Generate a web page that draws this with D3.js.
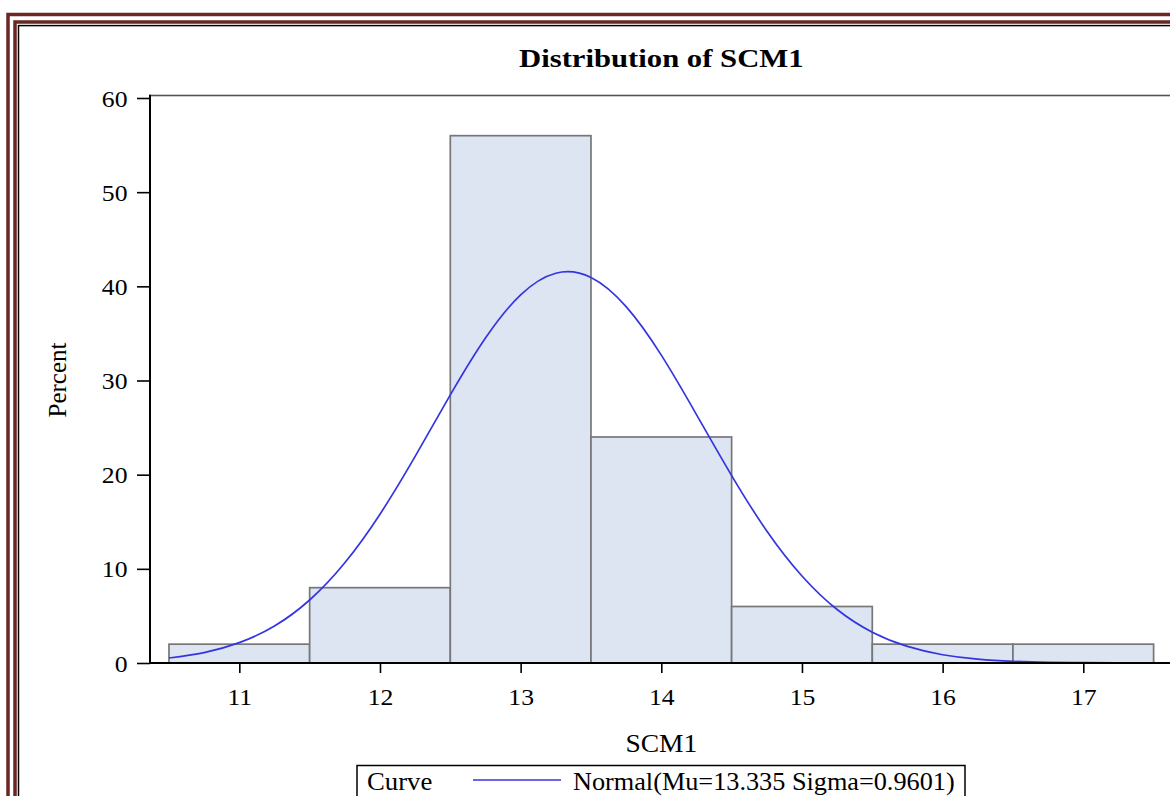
<!DOCTYPE html>
<html>
<head>
<meta charset="utf-8">
<script src="https://cdn.jsdelivr.net/npm/d3@7"></script>
<style>
  html, body { margin: 0; padding: 0; background: #ffffff; overflow: hidden; }
  svg { display: block; }
  text { font-family: "Liberation Serif", "Times New Roman", serif; fill: #000; }
</style>
</head>
<body>
<svg id="chart" width="1170" height="796"></svg>
<script>
// ---- data ----
const binMidpoints = [11, 12, 13, 14, 15, 16, 17];
const binPercent   = [2, 8, 56, 24, 6, 2, 2];
const binWidth = 1;
const xTickValues = [11, 12, 13, 14, 15, 16, 17];
const yTickValues = [0, 10, 20, 30, 40, 50, 60];
// normal curve values (percent)
const curveX       = [10.5, 10.75, 11, 11.25, 11.5, 11.75, 12, 12.25, 12.5, 12.75, 13, 13.25, 13.5, 13.75, 14, 14.25, 14.5, 14.75, 15, 15.25, 15.5, 15.75, 16, 16.25, 16.5, 16.75, 17, 17.25, 17.5];
const curvePercent = [0.53, 1.11, 2.16, 3.93, 6.69, 10.64, 15.8, 21.94, 28.47, 34.51, 39.09, 41.39, 40.94, 37.84, 32.69, 26.38, 19.9, 14.02, 9.24, 5.68, 3.27, 1.76, 0.88, 0.41, 0.18, 0.07, 0.03, 0.01, 0.0];
const titleText = "Distribution of SCM1";
const xLabel = "SCM1";
const yLabel = "Percent";
const legendTitle = "Curve";
const legendText = "Normal(Mu=13.335 Sigma=0.9601)";

// ---- layout ----
const svg = d3.select("#chart");
const plotLeft = 150, plotRight = 1172.6, plotTop = 95.5, plotBottom = 663;

const x = d3.scaleLinear().domain([10.365, 17.635]).range([plotLeft, plotRight]);
const y = d3.scaleLinear().domain([0, 60]).range([plotBottom, 98]);

// ---- page frame (double maroon border + black line) ----
const frame = svg.append("g");
frame.append("rect").attr("x", 8).attr("y", 14.5).attr("width", 1300).attr("height", 1000)
  .attr("fill", "none").attr("stroke", "#6b2525").attr("stroke-width", 3.5);
frame.append("rect").attr("x", 15).attr("y", 22).attr("width", 1300).attr("height", 1000)
  .attr("fill", "none").attr("stroke", "#6b2525").attr("stroke-width", 3.5);
frame.append("rect").attr("x", 18.5).attr("y", 25.6).attr("width", 1300).attr("height", 1000)
  .attr("fill", "none").attr("stroke", "#000").attr("stroke-width", 1.5);

// ---- plot area frame ----
svg.append("rect").attr("x", plotLeft).attr("y", plotTop)
  .attr("width", plotRight - plotLeft).attr("height", plotBottom - plotTop)
  .attr("fill", "none").attr("stroke", "#555").attr("stroke-width", 1.6);

// ---- bars ----
svg.append("g").selectAll("rect").data(binMidpoints).join("rect")
  .attr("x", (d) => x(d - binWidth / 2))
  .attr("y", (d, i) => y(binPercent[i]))
  .attr("width", (d) => x(d + binWidth / 2) - x(d - binWidth / 2))
  .attr("height", (d, i) => y(0) - y(binPercent[i]))
  .attr("fill", "#dce5f1")
  .attr("stroke", "#777")
  .attr("stroke-width", 1.7);

// ---- normal curve ----
const line = d3.line()
  .x((d, i) => x(curveX[i]))
  .y((d) => y(d))
  .curve(d3.curveNatural);
svg.append("path").datum(curvePercent)
  .attr("d", line)
  .attr("fill", "none")
  .attr("stroke", "#3535e0")
  .attr("stroke-width", 1.7);

// ---- axes ----
const yAxis = d3.axisLeft(y).tickValues(yTickValues).tickSize(13).tickSizeOuter(0).tickPadding(8);
const gy = svg.append("g").attr("transform", `translate(${plotLeft},0)`).call(yAxis);
gy.select(".domain").remove();
gy.selectAll(".tick line").attr("stroke", "#000").attr("stroke-width", 1.6);
gy.selectAll(".tick text")
  .attr("font-family", "Liberation Serif").attr("font-size", 24).attr("fill", "#000")
  .attr("dy", "0.34em")
  .attr("transform", "scale(1.07,1)");
svg.append("line").attr("x1", plotLeft).attr("x2", plotLeft)
  .attr("y1", plotTop - 0.8).attr("y2", plotBottom + 1)
  .attr("stroke", "#000").attr("stroke-width", 2);

const xAxis = d3.axisBottom(x).tickValues(xTickValues).tickSize(10).tickSizeOuter(0).tickPadding(8);
const gx = svg.append("g").attr("transform", `translate(0,${plotBottom})`).call(xAxis);
gx.select(".domain").remove();
gx.selectAll(".tick line").attr("stroke", "#000").attr("stroke-width", 1.6);
gx.selectAll(".tick text")
  .attr("font-family", "Liberation Serif").attr("font-size", 24).attr("fill", "#000")
  .attr("dy", null).attr("y", 42)
  .attr("transform", "scale(1.07,1)")
  .attr("text-anchor", "middle");
svg.append("line").attr("x1", plotLeft).attr("x2", 1170)
  .attr("y1", plotBottom).attr("y2", plotBottom)
  .attr("stroke", "#000").attr("stroke-width", 2);

// ---- titles ----
const midX = (plotLeft + plotRight) / 2;
svg.append("text").text(titleText)
  .attr("transform", `translate(${midX},67) scale(1.18,1)`)
  .attr("text-anchor", "middle").attr("font-size", 26).attr("font-weight", "bold");
svg.append("text").text(xLabel)
  .attr("transform", `translate(${midX},752) scale(1.1,1)`)
  .attr("text-anchor", "middle").attr("font-size", 25);
svg.append("text").text(yLabel)
  .attr("transform", `translate(66,380) rotate(-90)`)
  .attr("text-anchor", "middle").attr("font-size", 25);

// ---- legend ----
const lg = svg.append("g");
lg.append("rect").attr("x", 357).attr("y", 765.5).attr("width", 608).attr("height", 60)
  .attr("fill", "#fff").attr("stroke", "#000").attr("stroke-width", 1.5);
lg.append("text").text(legendTitle)
  .attr("transform", "translate(367,790) scale(1.07,1)")
  .attr("font-size", 25);
lg.append("line").attr("x1", 473).attr("x2", 561).attr("y1", 780).attr("y2", 780)
  .attr("stroke", "#3535e0").attr("stroke-width", 1.6);
lg.append("text").text(legendText)
  .attr("transform", "translate(573,790) scale(1.05,1)")
  .attr("font-size", 25);
</script>
</body>
</html>
